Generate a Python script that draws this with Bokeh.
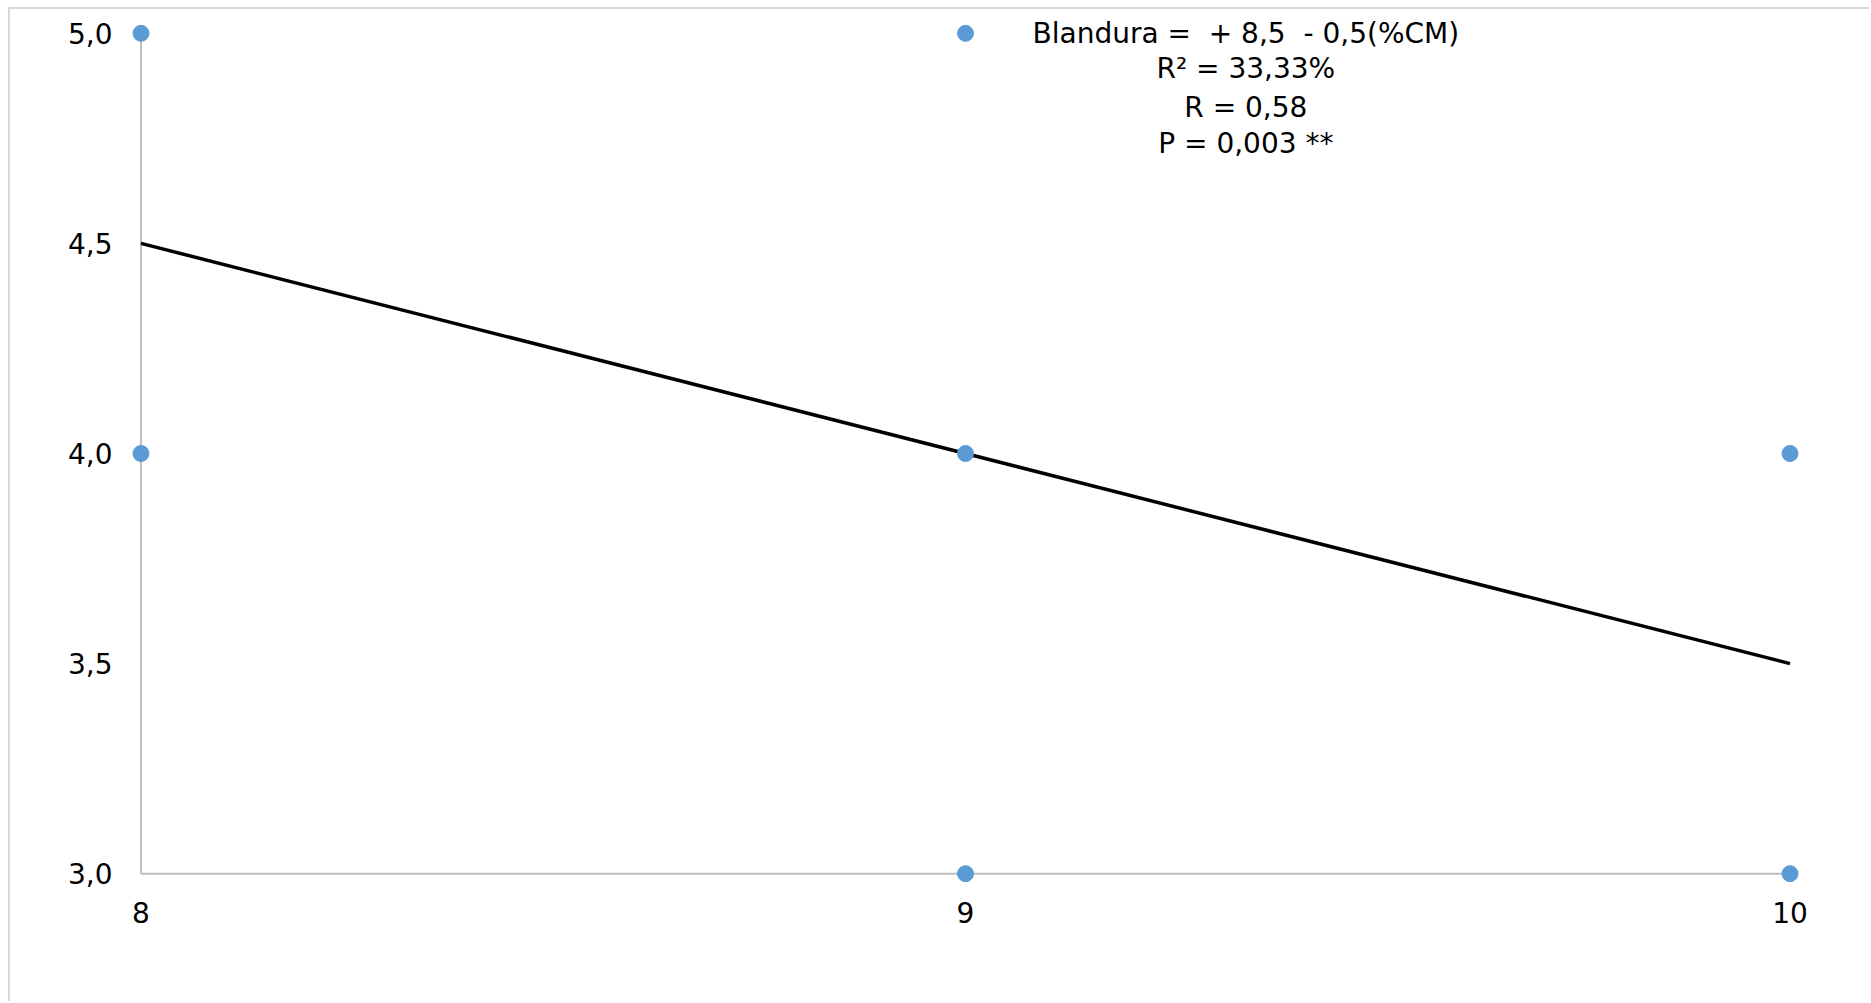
from bokeh.plotting import figure
from bokeh.models import Range1d, FixedTicker, Label
from bokeh.embed import file_html
from bokeh.resources import INLINE

# data
cm_x = [8, 8, 9, 9, 9, 10, 10]
blandura_y = [5.0, 4.0, 5.0, 4.0, 3.0, 4.0, 3.0]
fit_x = [8, 10]
fit_y = [4.5, 3.5]
x_ticks = [8, 9, 10]
x_tick_labels = ["8", "9", "10"]
y_ticks = [3.0, 3.5, 4.0, 4.5, 5.0]
y_tick_labels = ["3,0", "3,5", "4,0", "4,5", "5,0"]
NB = "\u00a0"
annot_lines = ["Blandura =" + NB + NB + "+ 8,5" + NB + NB + "- 0,5(%CM)",
               "R² = 33,33%", "R = 0,58", "P = 0,003 **"]

FONT = "DejaVu Sans"
AXIS_COLOR = "#bfbfbf"

p = figure(width=1861, height=994, output_backend="svg", toolbar_location=None,
           x_range=Range1d(7.98, 10.02), y_range=Range1d(2.96, 5.04),
           min_border_left=114, min_border_right=65, min_border_top=7, min_border_bottom=113)
p.styles = {"margin-left": "8px", "margin-top": "7px",
            "border-left": "2px solid #d9d9d9", "border-top": "2px solid #d9d9d9"}
p.outline_line_color = None
p.background_fill_color = "white"
p.border_fill_color = "white"
p.xgrid.visible = False
p.ygrid.visible = False

for ax in (p.xaxis[0], p.yaxis[0]):
    ax.axis_line_color = None
    ax.major_tick_line_color = None
    ax.minor_tick_line_color = None
    ax.major_tick_in = 0
    ax.major_tick_out = 0
    ax.major_label_text_font = FONT
    ax.major_label_text_font_size = "28px"
    ax.major_label_text_color = "black"

p.xaxis.ticker = FixedTicker(ticks=x_ticks)
p.yaxis.ticker = FixedTicker(ticks=y_ticks)
p.xaxis.major_label_overrides = {t: l for t, l in zip(x_ticks, x_tick_labels)}
p.yaxis.major_label_overrides = {t: l for t, l in zip(y_ticks, y_tick_labels)}
p.xaxis.major_label_standoff = 11
p.yaxis.major_label_standoff = 12

# axis lines at x = first x tick and y = first y tick
p.segment(x0=[x_ticks[0], x_ticks[0]], y0=[y_ticks[0], y_ticks[0]],
          x1=[x_ticks[0], x_ticks[-1]], y1=[y_ticks[-1], y_ticks[0]],
          line_color=AXIS_COLOR, line_width=2)

p.line(fit_x, fit_y, line_color="black", line_width=3.5)
p.scatter(cm_x, blandura_y, size=16, fill_color="#5b9bd5", line_color="#5b9bd5")

label_x = 9.34
label_ys = [5.0, 4.917, 4.824, 4.738]
for txt, ly in zip(annot_lines, label_ys):
    p.add_layout(Label(x=label_x, y=ly, text=txt, text_align="center", text_baseline="middle",
                       text_font=FONT, text_font_size="28px", text_color="black"))

open("out.html", "w").write(file_html(p, INLINE))
